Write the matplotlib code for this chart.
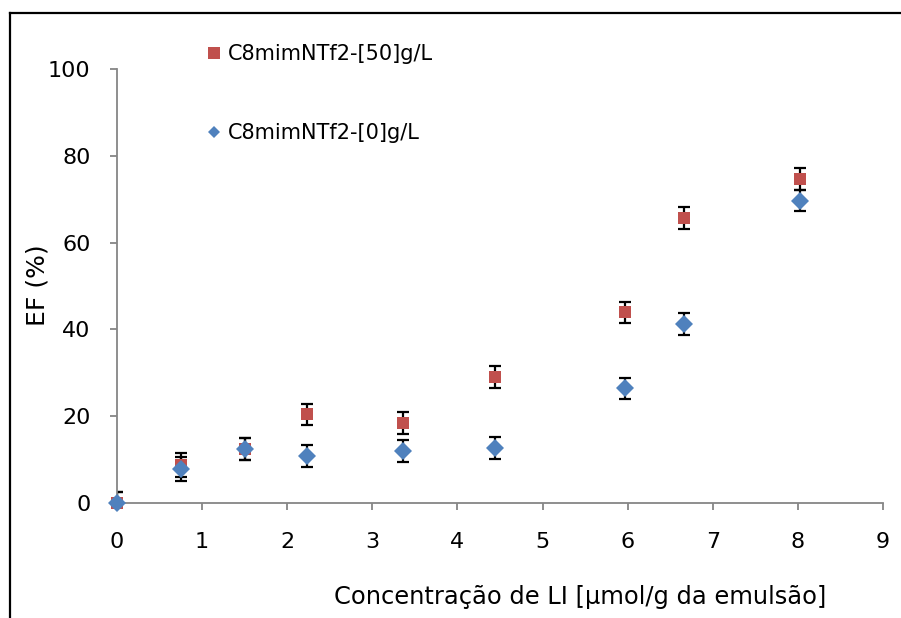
import matplotlib
matplotlib.use("Agg")
import matplotlib.pyplot as plt
from matplotlib.lines import Line2D

# LI concentration (µmol/g emulsion) and extraction efficiency EF (%)
conc = [0.0, 0.75, 1.5, 2.23, 3.36, 4.44, 5.97, 6.66, 8.02]
ef_50 = [0.0, 8.8, 12.4, 20.4, 18.4, 29.0, 43.9, 65.7, 74.6]
ef_0 = [0.0, 7.8, 12.4, 10.8, 12.0, 12.6, 26.4, 41.3, 69.7]
err_50 = [2.5, 2.7, 2.5, 2.5, 2.5, 2.5, 2.5, 2.5, 2.5]
err_0 = [2.5, 2.7, 2.5, 2.5, 2.5, 2.5, 2.5, 2.5, 2.5]

label_50 = "C8mimNTf2-[50]g/L"
label_0 = "C8mimNTf2-[0]g/L"
xlabel = "Concentração de LI [µmol/g da emulsão]"
ylabel = "EF (%)"
xticks = list(range(0, 10))
yticks = [0, 20, 40, 60, 80, 100]

RED = "#C0504D"
BLUE = "#4F81BD"
AXIS_GRAY = "#868686"

plt.rcParams["font.family"] = ["DejaVu Sans"]

W, H = 901, 618
fig = plt.figure(figsize=(W / 100, H / 100), dpi=100)
fig.patch.set_facecolor("white")

ax = fig.add_axes([117 / W, 1 - 503 / H, (883 - 117) / W, (503 - 69) / H])

# error bars (clipped to the plot area)
for y, e in ((ef_50, err_50), (ef_0, err_0)):
    ax.errorbar(conc, y, yerr=e, fmt="none", ecolor="black",
                elinewidth=1.6, capsize=4.5, capthick=1.6, zorder=2)

# markers
ax.plot(conc, ef_50, linestyle="none", marker="s", ms=9.2, color=RED,
        markeredgewidth=0, zorder=3, clip_on=False)
ax.plot(conc, ef_0, linestyle="none", marker="D", ms=8.8, color=BLUE,
        markeredgewidth=0, zorder=4, clip_on=False)

ax.set_xlim(0, 9)
ax.set_ylim(0, 100)
ax.set_xticks(xticks)
ax.set_yticks(yticks)
ax.set_xticklabels([str(t) for t in xticks], fontsize=16)
ax.set_yticklabels([str(t) for t in yticks], fontsize=16)

for side in ("top", "right"):
    ax.spines[side].set_visible(False)
for side in ("left", "bottom"):
    ax.spines[side].set_color(AXIS_GRAY)
    ax.spines[side].set_linewidth(1.3)
ax.tick_params(axis="both", direction="out", length=5, width=1.3,
               color=AXIS_GRAY, labelcolor="black")
ax.tick_params(axis="x", pad=16)
ax.tick_params(axis="y", pad=14)

# axis titles
fig.text(580 / W, 1 - 597 / H, xlabel, ha="center", va="center",
         fontsize=17.4)
fig.text(37 / W, 1 - 285 / H, ylabel, ha="center", va="center",
         rotation=90, fontsize=18)

# legend
handles = [
    Line2D([], [], linestyle="none", marker="s", ms=8.5, color=RED,
           markeredgewidth=0),
    Line2D([], [], linestyle="none", marker="D", ms=5.8, color=BLUE,
           markeredgewidth=0),
]
fig.legend(handles, [label_50, label_0], loc="upper left",
           bbox_to_anchor=(205 / W, 1 - 44 / H), frameon=False,
           fontsize=15, handlelength=0.85, handletextpad=0.25,
           labelspacing=2.85, borderpad=0, borderaxespad=0)

# outer frame lines (top and left)
fig.add_artist(Line2D([10 / W, 1.0], [1 - 13 / H, 1 - 13 / H],
                      transform=fig.transFigure, color="black", lw=1.6))
fig.add_artist(Line2D([10 / W, 10 / W], [0.0, 1 - 13 / H],
                      transform=fig.transFigure, color="black", lw=1.6))

fig.savefig("out.png", dpi=100, facecolor="white")
